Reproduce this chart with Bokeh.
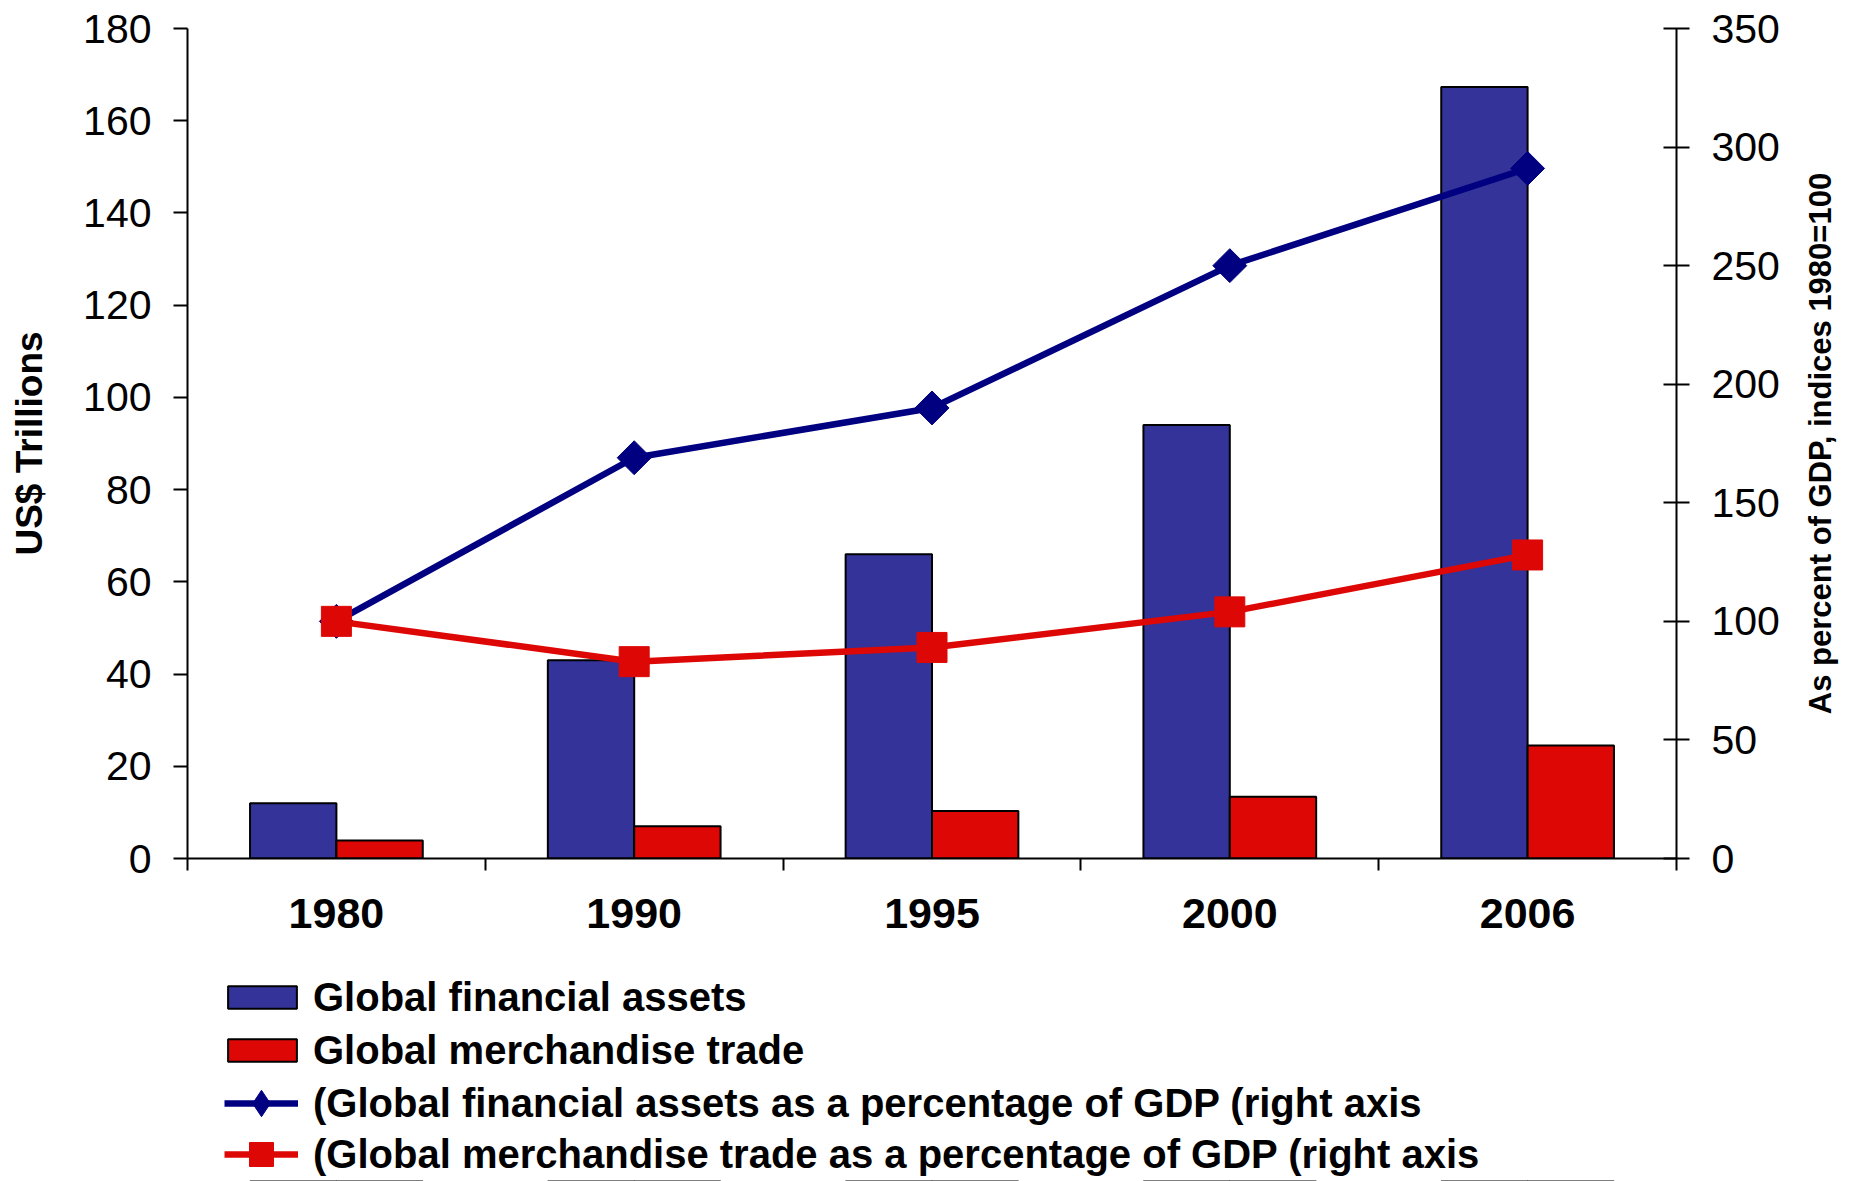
import math
from bokeh.plotting import figure
from bokeh.layouts import column, row
from bokeh.models import (Range1d, FactorRange, LinearAxis, FixedTicker, Title,
                          Legend, LegendItem, ColumnDataSource)
from bokeh.transform import dodge
from bokeh.embed import file_html
from bokeh.resources import INLINE

# ---- data ----
years = ["1980", "1990", "1995", "2000", "2006"]
financial_assets = [12.0, 43.0, 66.0, 94.0, 167.3]      # US$ trillions (left axis)
merchandise_trade = [3.9, 7.0, 10.3, 13.4, 24.5]        # US$ trillions (left axis)
assets_pct_gdp = [100, 169, 190, 250, 291]               # index 1980=100 (right axis)
trade_pct_gdp = [100, 83, 89, 104, 128]                  # index 1980=100 (right axis)
left_ticks = [0, 20, 40, 60, 80, 100, 120, 140, 160, 180]
right_ticks = [0, 50, 100, 150, 200, 250, 300, 350]
legend_labels = [
    "Global financial assets",
    "Global merchandise trade",
    "(Global financial assets as a percentage of GDP (right axis",
    "(Global merchandise trade as a percentage of GDP (right axis",
]
right_axis_title = "As percent of GDP, indices 1980=100"

FONT = "Liberation Sans"
BLUE_BAR = "#333399"
RED = "#DD0806"
NAVY = "#000080"

src = ColumnDataSource(dict(year=years, assets=financial_assets, trade=merchandise_trade,
                            apct=assets_pct_gdp, tpct=trade_pct_gdp))

p = figure(x_range=FactorRange(factors=years, range_padding=0, factor_padding=0),
           y_range=Range1d(0, 180), width=1800, height=950,
           output_backend="svg", toolbar_location=None, x_axis_location=None,
           min_border_left=187, min_border_right=124, min_border_top=28, min_border_bottom=92)
p.extra_y_ranges = {"pct": Range1d(0, 350)}
p.outline_line_color = None
p.xgrid.visible = False
p.ygrid.visible = False
p.background_fill_color = "white"
p.border_fill_color = "white"

# left axis
ya = p.yaxis[0]
ya.ticker = FixedTicker(ticks=left_ticks)
ya.minor_tick_line_color = None
ya.major_tick_in = 0
ya.major_tick_out = 14
ya.major_tick_line_width = 2
ya.axis_line_width = 2
ya.axis_line_color = "black"
ya.major_tick_line_color = "black"
ya.major_label_text_font = FONT
ya.major_label_text_font_size = "41px"
ya.major_label_text_color = "black"
ya.major_label_standoff = 22
ya.axis_label = "US$ Trillions"
ya.axis_label_text_font = FONT
ya.axis_label_text_font_size = "37px"
ya.axis_label_text_font_style = "bold"
ya.axis_label_text_color = "black"
ya.axis_label_standoff = 30

# right axis
ra = LinearAxis(y_range_name="pct", ticker=FixedTicker(ticks=right_ticks))
ra.minor_tick_line_color = None
ra.major_tick_in = 13
ra.major_tick_out = 13
ra.major_tick_line_width = 2
ra.axis_line_width = 2
ra.major_label_text_font = FONT
ra.major_label_text_font_size = "41px"
ra.major_label_text_color = "black"
ra.major_label_standoff = 22
p.add_layout(ra, "right")

# bottom axis: category labels at centres, tick marks at category boundaries
n = len(years)
xa = LinearAxis(ticker=FixedTicker(ticks=[i + 0.5 for i in range(n)],
                                   minor_ticks=list(range(n + 1))))
xa.major_label_overrides = {i + 0.5: y for i, y in enumerate(years)}
xa.major_tick_in = 0
xa.major_tick_out = 0
xa.minor_tick_in = 0
xa.minor_tick_out = 12
xa.minor_tick_line_width = 2
xa.minor_tick_line_color = "black"
xa.axis_line_width = 2
xa.major_label_text_font = FONT
xa.major_label_text_font_size = "43px"
xa.major_label_text_font_style = "bold"
xa.major_label_text_color = "black"
xa.major_label_standoff = 28
p.add_layout(xa, "below")


def draw_series(fig, diamond_marker="square", diamond_angle=math.pi / 4, **kw):
    r1 = fig.vbar(x=dodge("year", -0.145, range=fig.x_range), top="assets", width=0.29,
                  source=src, fill_color=BLUE_BAR, line_color="black", line_width=2)
    r2 = fig.vbar(x=dodge("year", 0.145, range=fig.x_range), top="trade", width=0.29,
                  source=src, fill_color=RED, line_color="black", line_width=2)
    r3 = fig.line(x="year", y="apct", source=src, line_color=NAVY, line_width=6.5, **kw)
    r4 = fig.scatter(x="year", y="apct", source=src, marker=diamond_marker, angle=diamond_angle,
                     size=24, fill_color=NAVY, line_color=NAVY, **kw)
    r5 = fig.line(x="year", y="tpct", source=src, line_color=RED, line_width=6.5, **kw)
    r6 = fig.scatter(x="year", y="tpct", source=src, marker="square", size=30,
                     fill_color=RED, line_color=RED, **kw)
    return r1, r2, r3, r4, r5, r6


draw_series(p, y_range_name="pct")

# ---- right-hand axis title (reads bottom to top) ----
r = figure(width=64, height=950, output_backend="svg", toolbar_location=None,
           x_axis_location=None, y_axis_location=None,
           min_border_left=16, min_border_right=0, min_border_top=28, min_border_bottom=92)
r.outline_line_color = None
r.xgrid.visible = False
r.ygrid.visible = False
r.add_layout(Title(text=right_axis_title, align="center", text_font=FONT,
                   text_font_size="31px", text_font_style="bold", text_color="black",
                   standoff=0, offset=0), "left")

# ---- legend strip below the chart (same series, outside its visible range) ----
q = figure(width=1864, height=231, x_range=FactorRange(factors=years),
           y_range=Range1d(1000, 1001), output_backend="svg", toolbar_location=None,
           x_axis_location=None, y_axis_location=None,
           min_border_left=187, min_border_right=188, min_border_top=0, min_border_bottom=0)
q.outline_line_color = None
q.xgrid.visible = False
q.ygrid.visible = False
e1, e2, e3, e4, e5, e6 = draw_series(q, diamond_marker="diamond", diamond_angle=0)


def make_legend(items, loc, glyph_w, glyph_h, standoff, spacing=7):
    lg = Legend(items=items, location=loc, orientation="vertical")
    lg.border_line_color = None
    lg.background_fill_alpha = 0
    lg.padding = 0
    lg.margin = 0
    lg.glyph_width = glyph_w
    lg.glyph_height = glyph_h
    lg.label_height = 46
    lg.spacing = spacing
    lg.label_standoff = standoff
    lg.label_text_font = FONT
    lg.label_text_font_size = "40px"
    lg.label_text_font_style = "bold"
    lg.label_text_color = "black"
    q.add_layout(lg, "center")


make_legend([LegendItem(label=legend_labels[0], renderers=[e1]),
             LegendItem(label=legend_labels[1], renderers=[e2])], (32, 108), 86, 28, 8)
make_legend([LegendItem(label=legend_labels[2], renderers=[e3, e4])], (37, 45), 74, 66, 15)
make_legend([LegendItem(label=legend_labels[3], renderers=[e5, e6])], (37, -3), 74, 60, 15)

layout = column(row(p, r, spacing=0), q, spacing=0)
open("out.html", "w").write(file_html(layout, INLINE))
